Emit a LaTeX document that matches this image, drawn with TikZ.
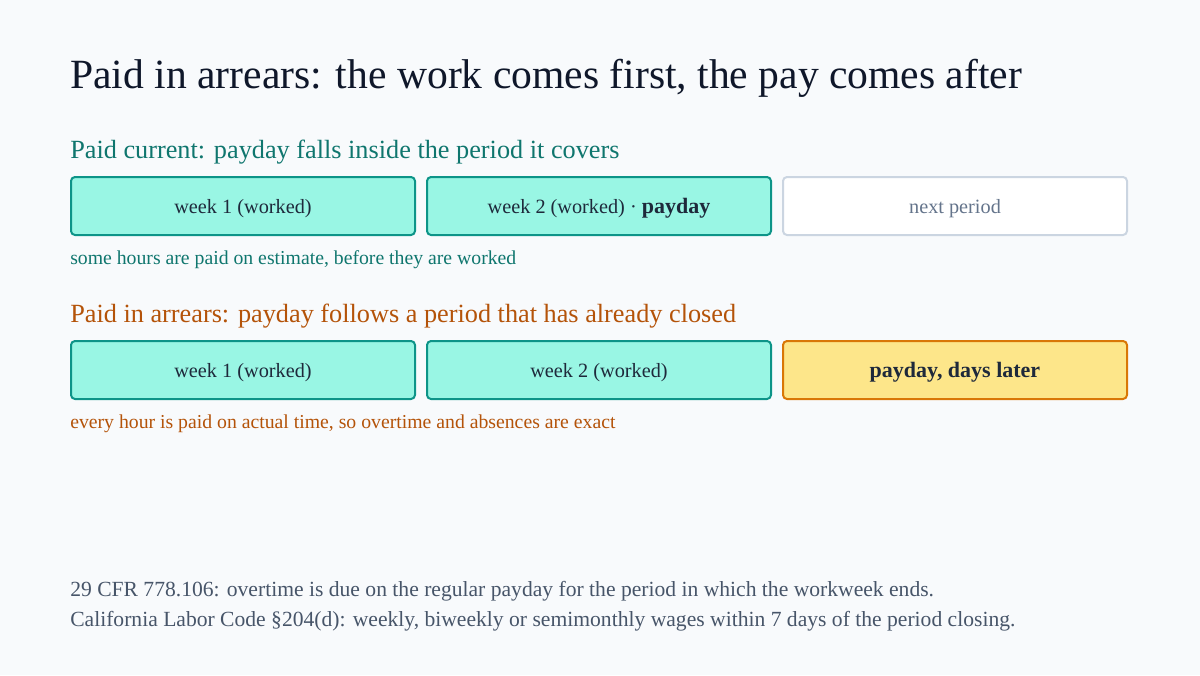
\documentclass[tikz,border=0pt]{standalone}
\usepackage{fontspec}
\setmainfont{Liberation Serif}
\usetikzlibrary{positioning}

\definecolor{pagebg}{HTML}{F8FAFC}
\definecolor{inktitle}{HTML}{0F172A}
\definecolor{inkbody}{HTML}{1E293B}
\definecolor{inkfoot}{HTML}{475569}
\definecolor{tealfill}{HTML}{99F6E4}
\definecolor{tealline}{HTML}{0D9488}
\definecolor{tealink}{HTML}{0F766E}
\definecolor{amberfill}{HTML}{FDE68A}
\definecolor{amberline}{HTML}{D97706}
\definecolor{amberink}{HTML}{B45309}
\definecolor{greyline}{HTML}{CBD5E1}
\definecolor{greyink}{HTML}{64748B}

\tikzset{
  week/.style={draw=tealline, fill=tealfill, line width=1.5pt, rounded corners=3pt,
    minimum width=258pt, minimum height=43.5pt, inner sep=0pt, text depth=0pt,
    text=inkbody, font=\fontsize{15.2}{18}\selectfont},
  nextbox/.style={week, draw=greyline, fill=white, text=greyink},
  paybox/.style={week, draw=amberline, fill=amberfill, font=\fontsize{16.5}{19}\selectfont\bfseries},
  heading/.style={anchor=base west, inner sep=0pt, font=\fontsize{19.7}{23}\selectfont},
  note/.style={anchor=base west, inner sep=0pt, font=\fontsize{14.8}{17}\selectfont},
  foot/.style={anchor=base west, inner sep=0pt, text=inkfoot, font=\fontsize{16.2}{19}\selectfont}
}

\begin{document}
\begin{tikzpicture}[x=0.75pt,y=-0.75pt,node distance=7.5pt]
\fill[pagebg] (0,0) rectangle (1200,675);
\useasboundingbox (0,0) rectangle (1200,675);

% title
\node[anchor=base west, inner sep=0pt, text=inktitle, font=\fontsize{31.2}{36}\selectfont]
  (title) at (70,88) {Paid in arrears: the work comes first, the pay comes after};

% paid current
\node[heading, text=tealink] (curhead) at (70,158) {Paid current: payday falls inside the period it covers};
\node[week, anchor=north west] (cw1) at (70,176) {week 1 (worked)};
\node[week, right=of cw1] (cw2) {week 2 (worked) · {\fontsize{16.5}{19}\selectfont\bfseries payday}};
\node[nextbox, right=of cw2] (cnext) {next period};
\node[note, text=tealink] (curnote) at (70,264) {some hours are paid on estimate, before they are worked};

% paid in arrears
\node[heading, text=amberink] (arrhead) at (70,322) {Paid in arrears: payday follows a period that has already closed};
\node[week, anchor=north west] (aw1) at (70,340) {week 1 (worked)};
\node[week, right=of aw1] (aw2) {week 2 (worked)};
\node[paybox, right=of aw2] (apay) {payday, days later};
\node[note, text=amberink] (arrnote) at (70,428) {every hour is paid on actual time, so overtime and absences are exact};

% sources
\node[foot] (law1) at (70,596) {29 CFR 778.106: overtime is due on the regular payday for the period in which the workweek ends.};
\node[foot] (law2) at (70,626) {California Labor Code §204(d): weekly, biweekly or semimonthly wages within 7 days of the period closing.};
\end{tikzpicture}
\end{document}
